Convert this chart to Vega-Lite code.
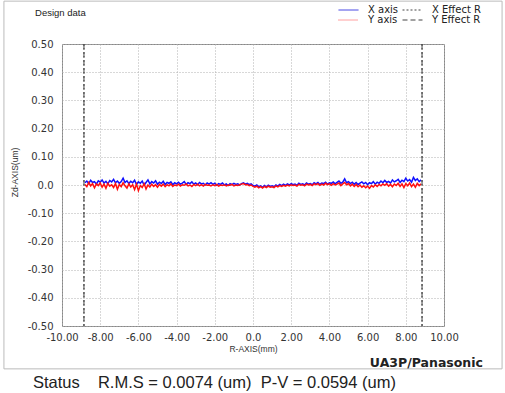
{
  "$schema": "https://vega.github.io/schema/vega-lite/v6.json",
  "width": 382,
  "height": 282,
  "autosize": {"type": "none"},
  "padding": {"left": 62, "top": 44, "right": 61, "bottom": 67},
  "background": "white",
  "config": {
    "view": {"stroke": "#888", "strokeWidth": 1},
    "font": "DejaVu Sans",
    "axis": {
      "labelOverlap": false, "labelBound": false, "labelFlush": false,
      "domain": false, "ticks": false,
      "grid": true, "gridColor": "#b0b0b0", "gridDash": [1, 2], "gridWidth": 1,
      "labelFont": "DejaVu Sans", "labelFontSize": 10, "labelColor": "#333",
      "titleFont": "Liberation Sans", "titleFontSize": 8.5, "titleFontWeight": "normal", "titleColor": "#333"
    }
  },
  "resolve": {"scale": {"color": "independent", "strokeDash": "independent"}},
  "datasets": {
    "profile": [
      {"r":-8.8,"X":0.008,"Y":0.002},{"r":-8.7,"X":0.014,"Y":-0.006},{"r":-8.6,"X":0.005,"Y":0.009},{"r":-8.5,"X":0.017,"Y":-0.003},{"r":-8.4,"X":0.009,"Y":0.005},
      {"r":-8.3,"X":0.012,"Y":-0.010},{"r":-8.2,"X":0.003,"Y":0.004},{"r":-8.1,"X":0.015,"Y":-0.002},{"r":-8.0,"X":0.010,"Y":0.007},{"r":-7.9,"X":0.018,"Y":-0.008},
      {"r":-7.8,"X":0.007,"Y":0.003},{"r":-7.7,"X":0.013,"Y":-0.012},{"r":-7.6,"X":0.004,"Y":0.006},{"r":-7.5,"X":0.016,"Y":-0.004},{"r":-7.4,"X":0.011,"Y":0.001},
      {"r":-7.3,"X":0.020,"Y":-0.009},{"r":-7.2,"X":0.008,"Y":0.005},{"r":-7.1,"X":0.014,"Y":-0.015},{"r":-7.0,"X":0.006,"Y":0.002},{"r":-6.9,"X":0.012,"Y":-0.006},
      {"r":-6.8,"X":0.024,"Y":0.008},{"r":-6.7,"X":0.009,"Y":-0.003},{"r":-6.6,"X":0.015,"Y":-0.011},{"r":-6.5,"X":0.005,"Y":0.004},{"r":-6.4,"X":0.013,"Y":-0.007},
      {"r":-6.3,"X":0.008,"Y":0.001},{"r":-6.2,"X":0.017,"Y":-0.016},{"r":-6.1,"X":0.002,"Y":0.003},{"r":-6.0,"X":0.011,"Y":-0.020},{"r":-5.9,"X":0.006,"Y":-0.002},
      {"r":-5.8,"X":0.014,"Y":-0.009},{"r":-5.7,"X":0.000,"Y":0.005},{"r":-5.6,"X":0.009,"Y":-0.014},{"r":-5.5,"X":0.018,"Y":0.000},{"r":-5.4,"X":0.004,"Y":-0.007},
      {"r":-5.3,"X":0.012,"Y":0.003},{"r":-5.2,"X":0.007,"Y":-0.005},{"r":-5.1,"X":0.015,"Y":0.001},{"r":-5.0,"X":0.003,"Y":-0.008},{"r":-4.9,"X":0.010,"Y":0.002},
      {"r":-4.8,"X":0.005,"Y":-0.004},{"r":-4.7,"X":0.013,"Y":0.003},{"r":-4.6,"X":0.002,"Y":-0.006},{"r":-4.5,"X":0.009,"Y":0.001},{"r":-4.4,"X":0.006,"Y":-0.003},
      {"r":-4.3,"X":0.011,"Y":0.004},{"r":-4.2,"X":0.001,"Y":-0.005},{"r":-4.1,"X":0.008,"Y":0.000},{"r":-4.0,"X":0.004,"Y":-0.002},{"r":-3.9,"X":0.010,"Y":0.003},
      {"r":-3.8,"X":0.003,"Y":-0.004},{"r":-3.7,"X":0.007,"Y":0.001},{"r":-3.6,"X":0.012,"Y":-0.001},{"r":-3.5,"X":0.002,"Y":0.004},{"r":-3.4,"X":0.008,"Y":-0.003},
      {"r":-3.3,"X":0.005,"Y":0.000},{"r":-3.2,"X":0.011,"Y":-0.005},{"r":-3.1,"X":0.003,"Y":0.002},{"r":-3.0,"X":0.007,"Y":-0.002},{"r":-2.9,"X":0.001,"Y":0.003},
      {"r":-2.8,"X":0.009,"Y":-0.003},{"r":-2.7,"X":0.004,"Y":0.001},{"r":-2.6,"X":0.006,"Y":-0.004},{"r":-2.5,"X":0.000,"Y":0.002},{"r":-2.4,"X":0.007,"Y":-0.001},
      {"r":-2.3,"X":0.003,"Y":0.000},{"r":-2.2,"X":0.008,"Y":-0.003},{"r":-2.1,"X":0.002,"Y":0.001},{"r":-2.0,"X":0.006,"Y":-0.002},{"r":-1.9,"X":-0.001,"Y":0.002},
      {"r":-1.8,"X":0.005,"Y":-0.004},{"r":-1.7,"X":0.002,"Y":0.000},{"r":-1.6,"X":0.007,"Y":-0.002},{"r":-1.5,"X":0.000,"Y":0.001},{"r":-1.4,"X":0.004,"Y":-0.003},
      {"r":-1.3,"X":-0.002,"Y":0.000},{"r":-1.2,"X":0.005,"Y":-0.001},{"r":-1.1,"X":0.001,"Y":0.002},{"r":-1.0,"X":0.006,"Y":-0.003},{"r":-0.9,"X":0.002,"Y":0.000},
      {"r":-0.8,"X":0.004,"Y":-0.002},{"r":-0.7,"X":0.000,"Y":0.001},{"r":-0.6,"X":0.005,"Y":0.003},{"r":-0.5,"X":0.008,"Y":0.005},{"r":-0.4,"X":0.003,"Y":0.001},
      {"r":-0.3,"X":0.006,"Y":0.002},{"r":-0.2,"X":0.001,"Y":-0.002},{"r":-0.1,"X":0.004,"Y":0.000},{"r":0.0,"X":-0.002,"Y":-0.005},{"r":0.1,"X":-0.004,"Y":-0.008},
      {"r":0.2,"X":0.000,"Y":-0.004},{"r":0.3,"X":-0.006,"Y":-0.010},{"r":0.4,"X":-0.003,"Y":-0.006},{"r":0.5,"X":-0.008,"Y":-0.011},{"r":0.6,"X":-0.002,"Y":-0.005},
      {"r":0.7,"X":-0.007,"Y":-0.009},{"r":0.8,"X":-0.001,"Y":-0.004},{"r":0.9,"X":-0.005,"Y":-0.008},{"r":1.0,"X":-0.003,"Y":-0.006},{"r":1.1,"X":-0.006,"Y":-0.009},
      {"r":1.2,"X":0.000,"Y":-0.003},{"r":1.3,"X":-0.004,"Y":-0.007},{"r":1.4,"X":0.002,"Y":-0.002},{"r":1.5,"X":-0.002,"Y":-0.005},{"r":1.6,"X":0.003,"Y":-0.001},
      {"r":1.7,"X":-0.001,"Y":-0.004},{"r":1.8,"X":0.004,"Y":0.000},{"r":1.9,"X":0.000,"Y":-0.003},{"r":2.0,"X":0.005,"Y":0.001},{"r":2.1,"X":0.001,"Y":-0.002},
      {"r":2.2,"X":0.003,"Y":0.000},{"r":2.3,"X":-0.001,"Y":-0.004},{"r":2.4,"X":0.006,"Y":0.002},{"r":2.5,"X":0.002,"Y":-0.001},{"r":2.6,"X":0.004,"Y":0.001},
      {"r":2.7,"X":0.000,"Y":-0.003},{"r":2.8,"X":0.007,"Y":0.003},{"r":2.9,"X":0.003,"Y":0.000},{"r":3.0,"X":0.005,"Y":0.002},{"r":3.1,"X":0.001,"Y":-0.002},
      {"r":3.2,"X":0.008,"Y":0.004},{"r":3.3,"X":0.004,"Y":0.001},{"r":3.4,"X":0.009,"Y":0.005},{"r":3.5,"X":0.002,"Y":-0.001},{"r":3.6,"X":0.007,"Y":0.003},
      {"r":3.7,"X":0.005,"Y":0.000},{"r":3.8,"X":0.010,"Y":0.006},{"r":3.9,"X":0.003,"Y":0.001},{"r":4.0,"X":0.008,"Y":0.004},{"r":4.1,"X":0.006,"Y":-0.001},
      {"r":4.2,"X":0.011,"Y":0.005},{"r":4.3,"X":0.004,"Y":0.000},{"r":4.4,"X":0.009,"Y":0.003},{"r":4.5,"X":0.014,"Y":0.007},{"r":4.6,"X":0.006,"Y":-0.002},
      {"r":4.7,"X":0.010,"Y":0.004},{"r":4.8,"X":0.022,"Y":0.009},{"r":4.9,"X":0.008,"Y":0.001},{"r":5.0,"X":0.012,"Y":0.005},{"r":5.1,"X":0.005,"Y":-0.003},
      {"r":5.2,"X":0.010,"Y":0.003},{"r":5.3,"X":0.003,"Y":-0.005},{"r":5.4,"X":0.009,"Y":0.002},{"r":5.5,"X":0.002,"Y":-0.006},{"r":5.6,"X":0.007,"Y":0.000},
      {"r":5.7,"X":0.011,"Y":-0.008},{"r":5.8,"X":0.004,"Y":-0.003},{"r":5.9,"X":0.009,"Y":-0.010},{"r":6.0,"X":0.001,"Y":-0.004},{"r":6.1,"X":0.008,"Y":-0.012},
      {"r":6.2,"X":0.005,"Y":-0.002},{"r":6.3,"X":0.012,"Y":-0.007},{"r":6.4,"X":0.003,"Y":0.001},{"r":6.5,"X":0.010,"Y":-0.005},{"r":6.6,"X":0.006,"Y":0.002},
      {"r":6.7,"X":0.014,"Y":-0.003},{"r":6.8,"X":0.008,"Y":0.004},{"r":6.9,"X":0.016,"Y":-0.001},{"r":7.0,"X":0.009,"Y":0.005},{"r":7.1,"X":0.013,"Y":-0.004},
      {"r":7.2,"X":0.007,"Y":0.002},{"r":7.3,"X":0.018,"Y":-0.006},{"r":7.4,"X":0.011,"Y":0.003},{"r":7.5,"X":0.015,"Y":-0.002},{"r":7.6,"X":0.020,"Y":0.006},
      {"r":7.7,"X":0.009,"Y":-0.005},{"r":7.8,"X":0.017,"Y":0.004},{"r":7.9,"X":0.012,"Y":-0.009},{"r":8.0,"X":0.024,"Y":0.005},{"r":8.1,"X":0.014,"Y":-0.003},
      {"r":8.2,"X":0.019,"Y":0.007},{"r":8.3,"X":0.010,"Y":-0.006},{"r":8.4,"X":0.027,"Y":0.003},{"r":8.5,"X":0.016,"Y":-0.008},{"r":8.6,"X":0.022,"Y":0.006},
      {"r":8.7,"X":0.012,"Y":-0.002},{"r":8.8,"X":0.018,"Y":0.004}
    ],
    "effect": [
      {"r": -8.85, "s": "X Effect R"},
      {"r": 8.85, "s": "X Effect R"},
      {"r": -8.85, "s": "Y Effect R"},
      {"r": 8.85, "s": "Y Effect R"}
    ],
    "notes": [
      {"r": -11.41, "z": 0.61, "t": "Design data", "k": "small"},
      {"r": -11.52, "z": -0.703, "t": "Status", "k": "status"},
      {"r": -8.12, "z": -0.703, "t": "R.M.S = 0.0074 (um)\u00a0\u00a0P-V = 0.0594 (um)", "k": "status"}
    ],
    "brand": [
      {"r": 12.04, "z": -0.631, "t": "UA3P/Panasonic"}
    ],
    "frame": [
      {"r": -13.04, "r2": 13.04, "z": 0.652, "z2": -0.652}
    ]
  },
  "encoding": {
    "x": {
      "field": "r", "type": "quantitative",
      "scale": {"domain": [-10, 10], "nice": false, "zero": false},
      "axis": {
        "values": [-10, -8, -6, -4, -2, 0, 2, 4, 6, 8, 10],
        "labelExpr": "datum.value == 0 ? '0.0' : replace(format(datum.value, '.2f'), '\u2212', '-')",
        "labelOverlap": false,
        "labelPadding": 6,
        "title": "R-AXIS(mm)",
        "titleY": 22, "titleBaseline": "middle"
      }
    },
    "y": {
      "field": "z", "type": "quantitative",
      "scale": {"domain": [-0.5, 0.5], "nice": false, "zero": false},
      "axis": {
        "values": [-0.5, -0.4, -0.3, -0.2, -0.1, 0, 0.1, 0.2, 0.3, 0.4, 0.5],
        "labelExpr": "datum.value == 0 ? '0.0' : replace(format(datum.value, '.2f'), '\u2212', '-')",
        "labelOverlap": false,
        "labelPadding": 9,
        "title": "Zd-AXIS(um)",
        "titleX": -48, "titleY": 128, "titleBaseline": "middle"
      }
    }
  },
  "layer": [
    {
      "data": {"name": "profile"},
      "transform": [{"fold": ["X", "Y"], "as": ["axisName", "z"]}],
      "mark": {"type": "line", "strokeWidth": 1.5, "clip": true},
      "encoding": {
        "color": {
          "field": "axisName", "type": "nominal",
          "scale": {"domain": ["X", "Y"], "range": ["#1010ff", "#ff1010"]},
          "legend": null
        }
      }
    },
    {
      "data": {"name": "effect"},
      "mark": {"type": "rule", "strokeWidth": 1},
      "encoding": {
        "y": null,
        "color": {
          "field": "s", "type": "nominal",
          "scale": {"domain": ["X axis", "Y axis", "X Effect R", "Y Effect R"], "range": ["#3030e0", "#ff4040", "#444444", "#444444"]},
          "legend": {
            "title": null, "orient": "none", "legendX": 276, "legendY": -39,
            "columns": 2, "symbolType": "stroke", "symbolSize": 400, "symbolStrokeWidth": 1,
            "labelFont": "DejaVu Sans", "labelFontSize": 10, "labelColor": "#222",
            "labelOffset": 9, "columnPadding": 3, "rowPadding": 0, "clipHeight": 10
          }
        },
        "strokeDash": {
          "field": "s", "type": "nominal",
          "scale": {"domain": ["X axis", "Y axis", "X Effect R", "Y Effect R"], "range": [[1, 0], [1, 1], [2, 2], [5, 3]]},
          "legend": {
            "title": null, "orient": "none", "legendX": 276, "legendY": -39,
            "columns": 2, "symbolType": "stroke", "symbolSize": 400, "symbolStrokeWidth": 1,
            "labelFont": "DejaVu Sans", "labelFontSize": 10, "labelColor": "#222",
            "labelOffset": 9, "columnPadding": 3, "rowPadding": 0, "clipHeight": 10
          }
        }
      }
    },
    {
      "data": {"name": "frame"},
      "mark": {"type": "rect", "fill": null, "stroke": "#bbbbbb", "strokeWidth": 1, "clip": false},
      "encoding": {
        "x2": {"field": "r2"},
        "y2": {"field": "z2"}
      }
    },
    {
      "data": {"name": "notes"},
      "mark": {"type": "text", "align": "left", "baseline": "middle", "font": "Liberation Sans", "color": "#222", "clip": false},
      "encoding": {
        "text": {"field": "t"},
        "size": {"field": "k", "type": "nominal", "scale": {"domain": ["small", "status"], "range": [9.5, 16.5]}, "legend": null}
      }
    },
    {
      "data": {"name": "brand"},
      "mark": {"type": "text", "align": "right", "baseline": "middle", "font": "DejaVu Sans", "fontWeight": "bold", "fontSize": 12.5, "color": "#222", "clip": false},
      "encoding": {
        "text": {"field": "t"}
      }
    }
  ]
}
